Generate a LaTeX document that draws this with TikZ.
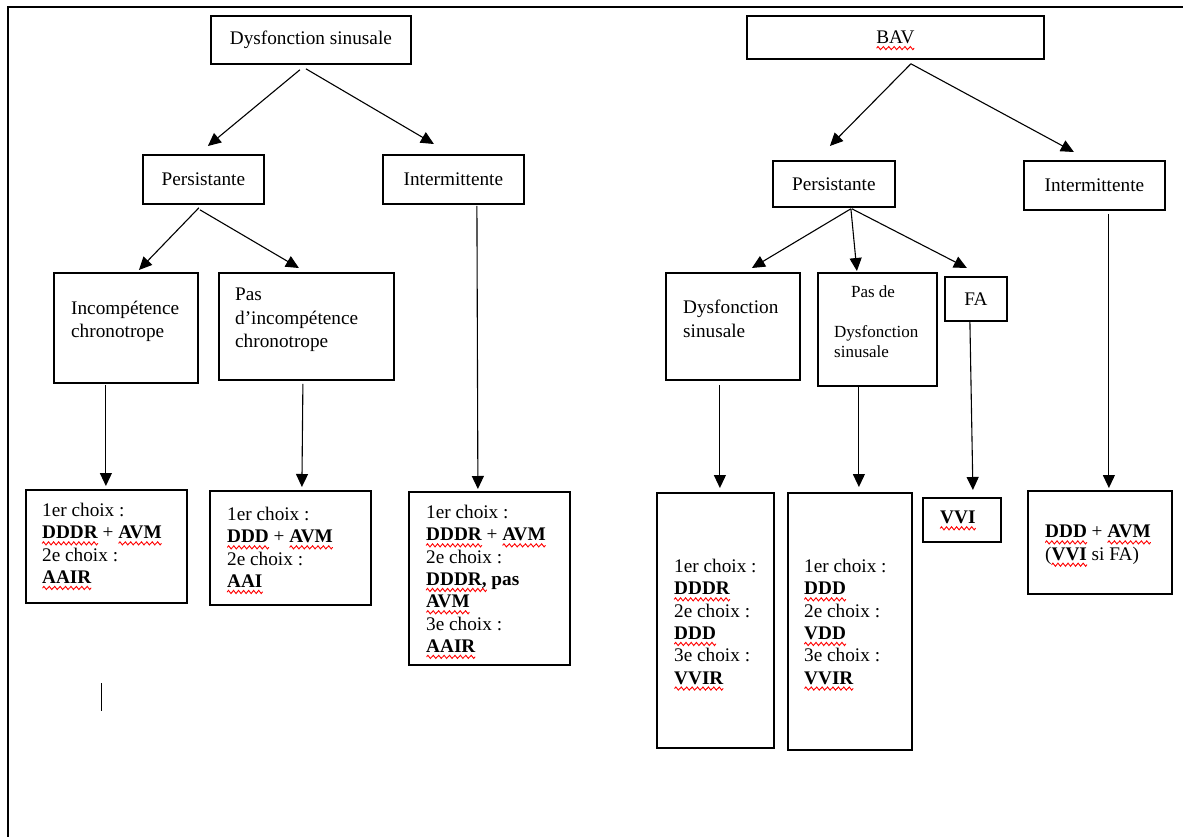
\documentclass[tikz,border=0pt]{standalone}
\usepackage{fontspec}
\setmainfont{Liberation Serif}
\usetikzlibrary{arrows.meta,calc}
\newsavebox\sqbox
\newcommand\sqseg{\tikz[x=1pt,y=1pt,baseline=0pt]{\useasboundingbox (0,0) rectangle (5,0);\draw[red,line width=0.9pt,line cap=round] (0,0) sin (1.25,1.6) cos (2.5,0) sin (3.75,-1.6) cos (5,0);}}
\newcommand\sq[1]{\sbox\sqbox{#1}\rlap{\smash{\raisebox{-4.5pt}{\hbox to \wd\sqbox{\xleaders\hbox{\sqseg}\hfill}}}}\usebox\sqbox}
\begin{document}
\begin{tikzpicture}[x=1pt,y=-1pt,
  box/.style={draw, line width=1.8pt, inner sep=0pt, anchor=north west,
    font=\fontsize{19.25}{23}\selectfont},
  txt/.style={inner sep=0pt, anchor=north west, align=left,
    font=\fontsize{19.25}{22.3}\selectfont},
  txtb/.style={txt, font=\fontsize{19.25}{23.3}\selectfont},
  txts/.style={inner sep=0pt, anchor=north west, align=left,
    font=\fontsize{17}{20}\selectfont},
  arr/.style={line width=1.1pt, -{Triangle[length=13pt,width=12pt]}}]
\useasboundingbox (0,0) rectangle (1183,837);
% partial frame
\draw[line width=2.2pt] (8,837) -- (8,7) -- (1183,7);
% text cursor
\draw[line width=0.9pt] (101,683) -- (101,711);

% ---------- left tree ----------
\node[box, minimum width=200pt, minimum height=48pt] (DS) at (210,15) {Dysfonction sinusale};
\node[box, minimum width=121pt, minimum height=49pt] (P1) at (142,154) {Persistante};
\node[box, minimum width=141pt, minimum height=49pt] (I1) at (382,154) {Intermittente};
\node[box, minimum width=144pt, minimum height=110pt] (Inc) at (53,272) {};
\node[box, minimum width=175pt, minimum height=107pt] (Pas) at (218,272) {};
\node[box, minimum width=161pt, minimum height=113pt] (R1) at (25,489) {};
\node[box, minimum width=161pt, minimum height=114pt] (R2) at (209,490) {};
\node[box, minimum width=161pt, minimum height=173pt] (R3) at (408,491) {};

\node[txtb] (tInc) at (71,301) {Incompétence\\chronotrope};
\node[txtb] (tPas) at (235,288) {Pas\\d’incompétence\\chronotrope};
\node[txt] (tR1) at (42,503) {1er choix :\\\textbf{\sq{DDDR}} + \textbf{\sq{AVM}}\\2e choix :\\\textbf{\sq{AAIR}}};
\node[txt] (tR2) at (227,507) {1er choix :\\\textbf{\sq{DDD}} + \textbf{\sq{AVM}}\\2e choix :\\\textbf{\sq{AAI}}};
\node[txt] (tR3) at (426,505) {1er choix :\\\textbf{\sq{DDDR}} + \textbf{\sq{AVM}}\\2e choix :\\\textbf{\sq{DDDR,} pas}\\\textbf{\sq{AVM}}\\3e choix :\\\textbf{\sq{AAIR}}};

\draw[arr] ($(DS.south)+(-11,5)$) -- ($(P1.north)+(4.5,-8)$);
\draw[arr] ($(DS.south)+(-5,4)$) -- ($(I1.north)+(-19.5,-10)$);
\draw[arr] ($(P1.south)+(-4.5,3)$) -- ($(Inc.north)+(13,-2)$);
\draw[arr] ($(P1.south)+(-3.5,5)$) -- ($(Pas.north)+(-7.5,-4)$);
\draw[arr] ($(Inc.south)+(-20,1)$) -- ($(R1.north)+(-0.5,-3)$);
\draw[arr] ($(Pas.south)+(-3.5,3)$) -- ($(R2.north)+(11.5,-3)$);
\draw[arr] ($(I1.south)+(23.5,1)$) -- ($(R3.north)+(-11.5,-2)$);

% ---------- right tree ----------
\node[box, minimum width=297pt, minimum height=43pt] (BAV) at (746,15) {\sq{BAV}};
\node[box, minimum width=122pt, minimum height=46pt] (P2) at (772,160) {Persistante};
\node[box, minimum width=141pt, minimum height=49pt] (I2) at (1023,160) {Intermittente};
\node[box, minimum width=134pt, minimum height=107pt] (DS2) at (665,272) {};
\node[box, minimum width=119pt, minimum height=113pt] (PD) at (817,272) {};
\node[box, minimum width=62pt, minimum height=44pt] (FA) at (944,276) {FA};
\node[box, minimum width=117pt, minimum height=255pt] (R4) at (656,492) {};
\node[box, minimum width=124pt, minimum height=257pt] (R5) at (787,492) {};
\node[box, minimum width=78pt, minimum height=44pt] (VV) at (922,497) {};
\node[box, minimum width=144pt, minimum height=103pt] (R7) at (1027,490) {};

\node[txtb] (tDS2) at (683,300) {Dysfonction\\sinusale};
\node[txts, anchor=north] (tPD1) at (873,286) {Pas de};
\node[txts] (tPD2) at (834,325) {Dysfonction\\sinusale};
\node[txt] (tR4) at (674,559) {1er choix :\\\textbf{\sq{DDDR}}\\2e choix :\\\textbf{\sq{DDD}}\\3e choix :\\\textbf{\sq{VVIR}}};
\node[txt] (tR5) at (804,559) {1er choix :\\\textbf{\sq{DDD}}\\2e choix :\\\textbf{\sq{VDD}}\\3e choix :\\\textbf{\sq{VVIR}}};
\node[txt] (tVV) at (940,511) {\textbf{\sq{VVI}}};
\node[txt] (tR7) at (1045,525) {\textbf{\sq{DDD}} + \textbf{\sq{AVM}}\\(\textbf{\sq{VVI}} si FA)};

\draw[arr] ($(BAV.south)+(15.5,4)$) -- ($(P2.north)+(-4,-14)$);
\draw[arr] ($(BAV.south)+(15.5,4)$) -- ($(I2.north)+(-20.5,-8)$);
\draw[arr] ($(P2.south)+(17,1)$) -- ($(DS2.north)+(19,-4)$);
\draw[arr] ($(P2.south)+(17,1)$) -- ($(PD.north)+(-20.5,-1)$);
\draw[arr] ($(P2.south)+(18,1)$) -- ($(FA.north)+(-9,-8)$);
\draw[arr] ($(DS2.south)+(-13,4)$) -- ($(R4.north)+(4.5,-4)$);
\draw[arr] ($(PD.south)+(-18.5,0)$) -- ($(R5.north)+(9,-5)$);
\draw[arr] ($(FA.south)+(-6,0)$) -- ($(VV.north)+(11,-7)$);
\draw[arr] ($(I2.south)+(14.5,3)$) -- ($(R7.north)+(9,-2)$);
\end{tikzpicture}
\end{document}
